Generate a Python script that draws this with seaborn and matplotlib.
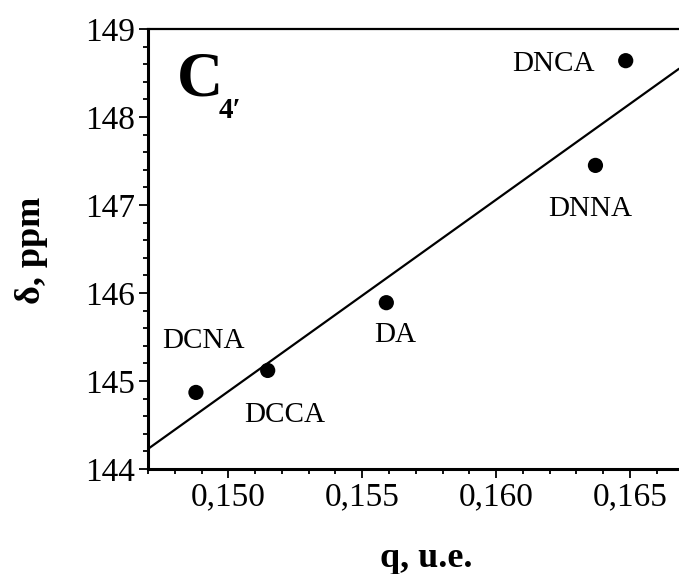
import numpy as np
import pandas as pd
import matplotlib
matplotlib.use("Agg")
import matplotlib.pyplot as plt
from matplotlib.ticker import MultipleLocator, FuncFormatter
import seaborn as sns

# Charge on C4' versus its chemical shift for the five compounds
compounds = ["DCNA", "DCCA", "DA", "DNNA", "DNCA"]
charge_q = [0.14879, 0.15147, 0.15590, 0.16371, 0.16484]
shift_ppm = [144.87, 145.12, 145.89, 147.45, 148.64]

x_ticks = [0.150, 0.155, 0.160, 0.165]
y_ticks = [144, 145, 146, 147, 148, 149]

# label offsets (pixels) from each point
label_offsets = {
    "DCNA": (8, 51),
    "DCCA": (17, -45),
    "DA": (9, -32),
    "DNNA": (-5, -44),
    "DNCA": (-72, -3),
}

df = pd.DataFrame({"compound": compounds, "q": charge_q, "delta": shift_ppm})

sns.set_theme(style="ticks")
serif = ["Liberation Serif", "DejaVu Serif"]
plt.rcParams["font.family"] = serif
plt.rcParams["text.color"] = "black"
plt.rcParams["axes.labelcolor"] = "black"
plt.rcParams["xtick.color"] = "black"
plt.rcParams["ytick.color"] = "black"

fig = plt.figure(figsize=(6.79, 5.74), dpi=100)
ax = fig.add_axes([148 / 679, 1 - 469 / 574, 1 - 148 / 679, (469 - 29) / 574])

ax.set_xlim(0.1470, 0.16683)
ax.set_ylim(144, 149)

sns.regplot(
    data=df, x="q", y="delta", ax=ax, ci=None, truncate=False,
    scatter_kws=dict(s=120, color="black", edgecolor="none", alpha=1, zorder=3),
    line_kws=dict(color="black", lw=1.6),
)

for name, xv, yv in zip(compounds, charge_q, shift_ppm):
    dx, dy = label_offsets[name]
    ax.annotate(name, (xv, yv), xytext=(dx, dy), textcoords="offset pixels",
                ha="center", va="center", fontsize=21, color="black")

ax.set_xticks(x_ticks)
ax.set_yticks(y_ticks)
ax.xaxis.set_minor_locator(MultipleLocator(0.001))
ax.yaxis.set_minor_locator(MultipleLocator(0.2))
ax.xaxis.set_major_formatter(FuncFormatter(lambda v, p: f"{v:.3f}".replace(".", ",")))
ax.yaxis.set_major_formatter(FuncFormatter(lambda v, p: f"{v:.0f}"))

ax.tick_params(axis="both", which="major", direction="out", length=6.5, width=1.3,
               labelsize=24, colors="black", pad=3)
ax.tick_params(axis="both", which="minor", direction="out", length=3.6, width=1.3,
               colors="black")

for side in ["left", "bottom"]:
    ax.spines[side].set_linewidth(2.2)
    ax.spines[side].set_color("black")
ax.spines["top"].set_linewidth(1.6)
ax.spines["top"].set_color("black")
ax.spines["right"].set_visible(False)

ax.set_xlabel("")
ax.set_ylabel("")

fig.text(426 / 679, 1 - 567 / 574, "q, u.e.", ha="center", va="baseline",
         fontsize=26, fontweight="bold", color="black")
fig.text(31 / 679, 1 - 250 / 574, "δ, ppm", ha="center", va="center",
         rotation=90, fontsize=26, fontweight="bold", color="black")

ax.text(0.054, 0.85, "C", transform=ax.transAxes, ha="left", va="baseline",
        fontsize=46, fontweight="bold", color="black")
ax.text(0.133, 0.798, "4\u2032", transform=ax.transAxes, ha="left", va="baseline",
        fontsize=21, fontweight="bold", family=serif, color="black")

fig.savefig("out.png", dpi=100, facecolor="white")
